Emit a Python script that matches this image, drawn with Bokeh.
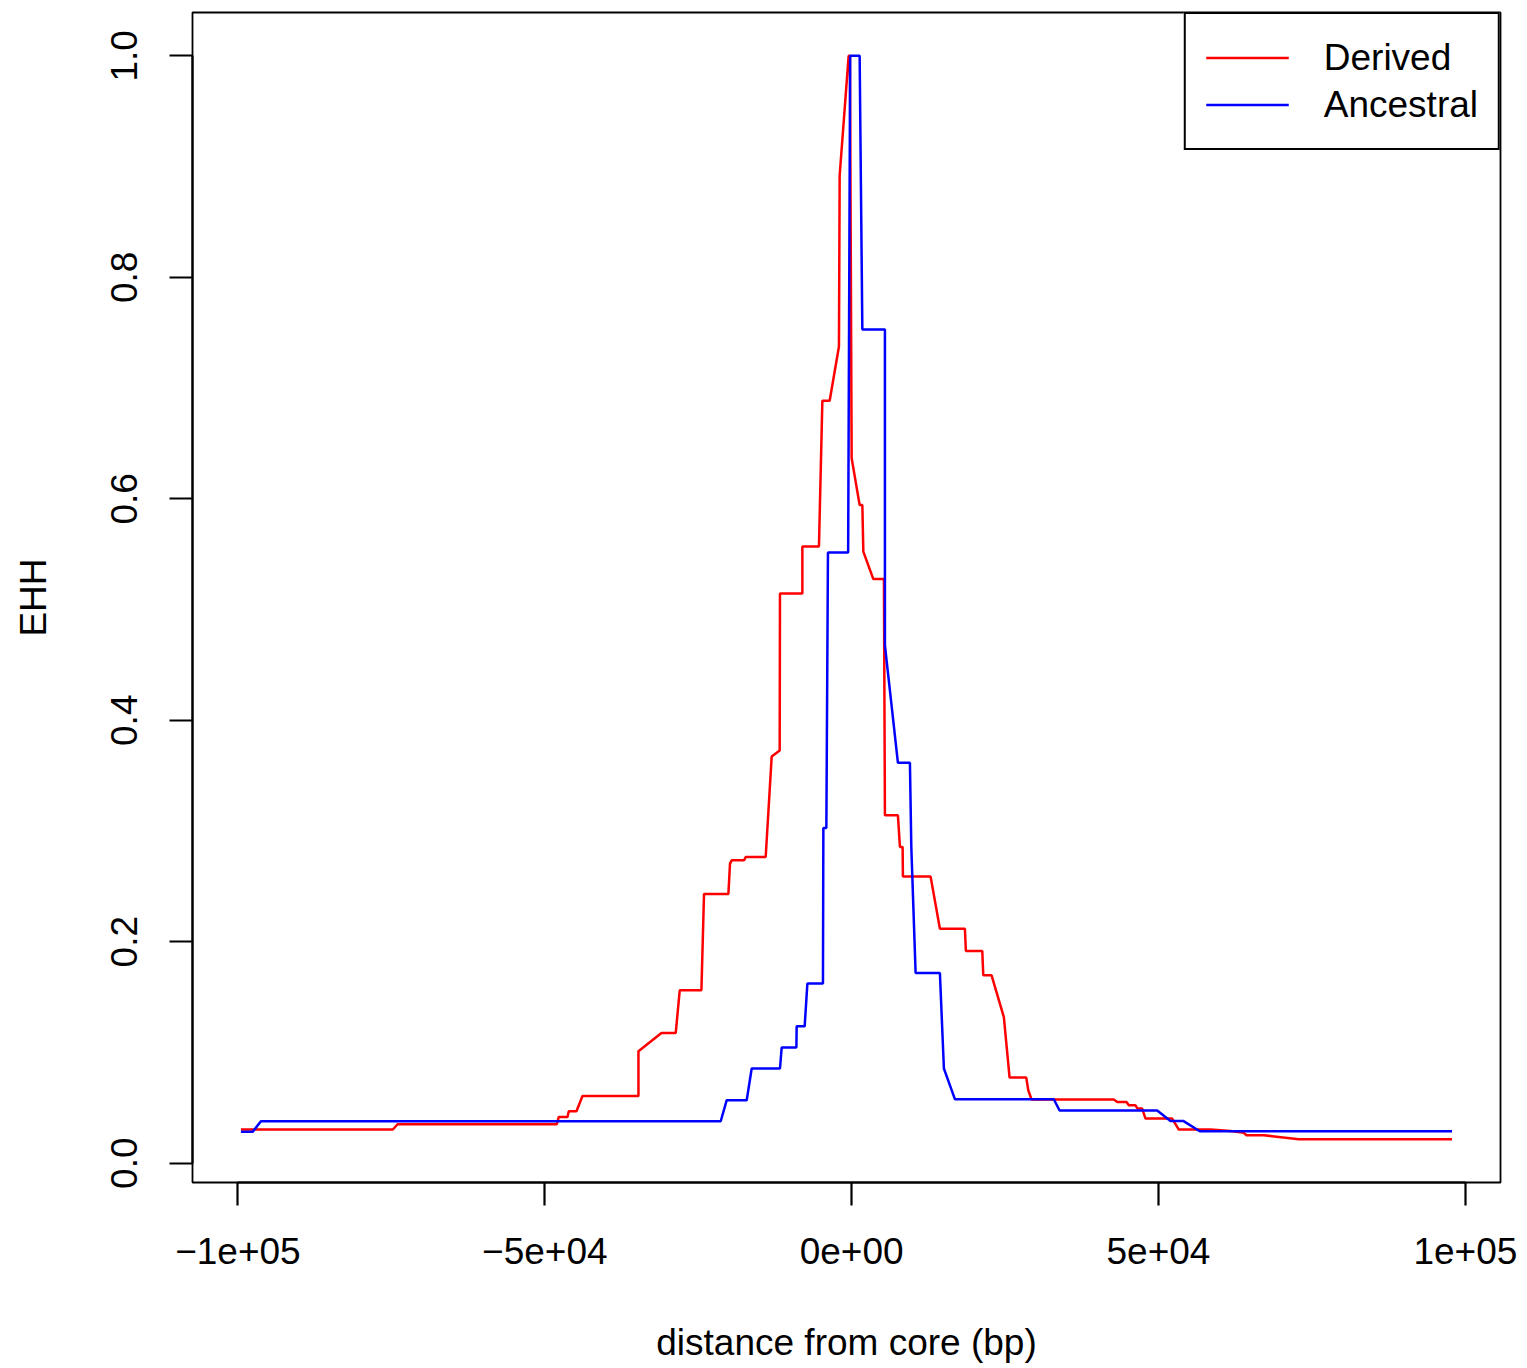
from bokeh.plotting import figure
from bokeh.models import LinearAxis, FixedTicker, Range1d
from bokeh.embed import file_html
from bokeh.resources import INLINE

# ---- data ----
derived_x = [-99511, -74756, -73990, -48045, -47720, -46303, -46091, -44837, -43860,
             -34739, -34739, -30993, -28664, -28013, -24479, -24055, -20081, -19821,
             -19544, -17541, -17264, -14006, -13029, -11726, -11677, -8029, -8029,
             -5326, -4772, -3583, -2068, -1954, -489, -277, 0, 1303, 1743, 1905,
             3534, 5261, 5423, 7541, 7866, 8306, 8355, 12866, 14381, 18453, 18615,
             21287, 21449, 22801, 24804, 25733, 28453, 28779, 29316, 42720, 43273,
             44788, 45163, 46254, 46581, 47346, 47883, 52232, 53307, 58469, 61727,
             63893, 64332, 67150, 72850, 97834]
derived_y = [0.0304, 0.0304, 0.0352, 0.0352, 0.0418, 0.0418, 0.0469, 0.0469, 0.0607,
             0.0607, 0.1011, 0.1176, 0.1176, 0.1561, 0.1561, 0.2432, 0.2432, 0.2705,
             0.2735, 0.2735, 0.2765, 0.2765, 0.3672, 0.3727, 0.5145, 0.5145, 0.5570,
             0.5570, 0.6886, 0.6886, 0.7375, 0.8917, 1.0, 1.0, 0.6367, 0.5944, 0.5944,
             0.5523, 0.5275, 0.5275, 0.3141, 0.3141, 0.2855, 0.2855, 0.2588, 0.2588,
             0.2118, 0.2118, 0.1916, 0.1916, 0.1697, 0.1697, 0.1320, 0.0773, 0.0773,
             0.0659, 0.0575, 0.0575, 0.0553, 0.0553, 0.0523, 0.0523, 0.0493, 0.0493,
             0.0403, 0.0403, 0.0304, 0.0304, 0.0290, 0.0274, 0.0253, 0.0253, 0.0217,
             0.0217]

ancestral_x = [-99511, -97605, -96254, -21335, -20358, -17101, -16286, -11677, -11401,
               -9006, -8958, -7655, -7215, -4674, -4609, -4121, -3860, -570, -244,
               1303, 1743, 5423, 5423, 5814, 7541, 9495, 9723, 10423, 14381, 15032,
               16824, 32948, 33876, 49788, 51955, 54023, 56727, 97834]
ancestral_y = [0.0283, 0.0283, 0.0379, 0.0379, 0.0569, 0.0569, 0.0855, 0.0855, 0.1044,
               0.1044, 0.1236, 0.1236, 0.1622, 0.1622, 0.3028, 0.3028, 0.5515, 0.5515,
               1.0, 1.0, 0.7529, 0.7529, 0.4675, 0.4480, 0.3616, 0.3616, 0.2855, 0.1717,
               0.1717, 0.0855, 0.0578, 0.0578, 0.0476, 0.0476, 0.0382, 0.0382, 0.0289,
               0.0289]

x_ticks = [-100000, -50000, 0, 50000, 100000]
x_tick_labels = ["\u22121e+05", "\u22125e+04", "0e+00", "5e+04", "1e+05"]
y_ticks = [0.0, 0.2, 0.4, 0.6, 0.8, 1.0]
y_tick_labels = ["0.0", "0.2", "0.4", "0.6", "0.8", "1.0"]

FONT = "Liberation Sans"
FS = "37px"

# R style 4% range extension
xmin = min(min(derived_x), min(ancestral_x)); xmax = max(max(derived_x), max(ancestral_x))
ymin = min(min(derived_y), min(ancestral_y)); ymax = max(max(derived_y), max(ancestral_y))
xe = 0.04 * (xmax - xmin); ye = 0.04 * (ymax - ymin)

p = figure(width=1527, height=1368, output_backend="svg", toolbar_location=None,
           x_axis_type=None, y_axis_type=None,
           x_range=Range1d(xmin - xe, xmax + xe), y_range=Range1d(ymin - ye, ymax + ye),
           min_border_left=192, min_border_right=27, min_border_top=12, min_border_bottom=186)
p.xgrid.visible = False
p.ygrid.visible = False
p.outline_line_color = "black"
p.outline_line_width = 1.8
p.outline_line_alpha = 1.0
p.background_fill_color = "white"
p.border_fill_color = "white"

p.line(derived_x, derived_y, line_color="#FF0000", line_width=2.5, legend_label="Derived")
p.line(ancestral_x, ancestral_y, line_color="#0000FF", line_width=2.5, legend_label="Ancestral")

xaxis = LinearAxis(ticker=FixedTicker(ticks=x_ticks), bounds=(x_ticks[0], x_ticks[-1]),
                   major_label_overrides={t: l for t, l in zip(x_ticks, x_tick_labels)},
                   axis_label="distance from core (bp)")
yaxis = LinearAxis(ticker=FixedTicker(ticks=y_ticks), bounds=(y_ticks[0], y_ticks[-1]),
                   major_label_overrides={t: l for t, l in zip(y_ticks, y_tick_labels)},
                   axis_label="EHH", major_label_orientation="vertical")
for ax in (xaxis, yaxis):
    ax.axis_line_width = 2.2
    ax.axis_line_color = "black"
    ax.major_tick_line_width = 2.2
    ax.major_tick_line_color = "black"
    ax.major_tick_out = 23
    ax.major_tick_in = 0
    ax.minor_tick_line_color = None
    ax.major_label_text_font = FONT
    ax.major_label_text_font_size = FS
    ax.major_label_text_color = "black"
    ax.axis_label_text_font = FONT
    ax.axis_label_text_font_size = FS
    ax.axis_label_text_font_style = "normal"
    ax.axis_label_text_color = "black"
xaxis.major_label_standoff = 32
xaxis.axis_label_standoff = 55
yaxis.major_label_standoff = 32
yaxis.axis_label_standoff = 55
p.add_layout(xaxis, "below")
p.add_layout(yaxis, "left")

lg = p.legend[0]
lg.location = "top_right"
lg.margin = 0
lg.padding = 20
lg.spacing = 0
lg.glyph_width = 83
lg.glyph_height = 47
lg.label_height = 47
lg.label_standoff = 35
lg.label_text_font = FONT
lg.label_text_font_size = FS
lg.label_text_color = "black"
lg.border_line_color = "black"
lg.border_line_alpha = 1.0
lg.border_line_width = 2
lg.background_fill_alpha = 1.0

open("out.html", "w").write(file_html(p, INLINE))
